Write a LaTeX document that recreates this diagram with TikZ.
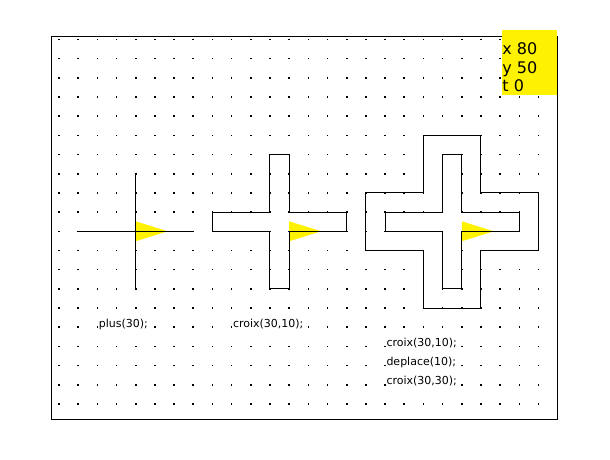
\documentclass[tikz,border=0pt]{standalone}
\usepackage{fontspec}
\newfontfamily\dv{DejaVu Sans}
\begin{document}
\begin{tikzpicture}[x=1pt,y=-1pt,
  lbl/.style={font=\dv\fontsize{11}{13}\selectfont, anchor=base west, inner xsep=0pt, inner ysep=0.6pt, fill=white},
  stat/.style={font=\dv\fontsize{16}{18}\selectfont, anchor=base west, inner sep=0pt},
  crossline/.style={draw=black, line width=1pt, line join=miter},
  turtle/.style={fill=yellow},
  framebox/.style={draw=black, line width=1pt},
  griddot/.style={fill=black}]
\useasboundingbox (0,0) rectangle (610,460);
\fill[white] (0,0) rectangle (610,460);
% dotted grid
\foreach \i in {0,...,26}{\foreach \j in {0,...,19}{
  \fill[griddot] ({59+19.18*\i-0.8},{39.5+19.18*\j-0.8}) rectangle ++(1.6,1.6);}}
% frame
\draw[framebox] (51.7,37) rectangle (557.5,419.5);
% shapes in grid units
\begin{scope}[shift={(59,39.5)}, x=19.18pt, y=-19.18pt]
  \foreach \c in {4,12,21}{
    \fill[turtle] (\c,9.479) -- (\c,10.521) -- ({\c+1.668},10) -- cycle;}
  % plus(30)
  \draw[crossline] (1,10) -- (7,10);
  \draw[crossline] (4,7) -- (4,13);
  % croix(30,10)
  \draw[crossline] (11,6) -- (12,6) -- (12,9) -- (15,9) -- (15,10) -- (12,10) -- (12,13)
    -- (11,13) -- (11,10) -- (8,10) -- (8,9) -- (11,9) -- cycle;
  % croix(30,10) inner
  \draw[crossline] (20,6) -- (21,6) -- (21,9) -- (24,9) -- (24,10) -- (21,10) -- (21,13)
    -- (20,13) -- (20,10) -- (17,10) -- (17,9) -- (20,9) -- cycle;
  % croix(30,30) outer
  \draw[crossline] (19,5) -- (22,5) -- (22,8) -- (25,8) -- (25,11) -- (22,11) -- (22,14)
    -- (19,14) -- (19,11) -- (16,11) -- (16,8) -- (19,8) -- cycle;
\end{scope}
% labels
\node[lbl] (l1) at (98.6,327.2) {plus(30);};
\node[lbl] (l2) at (232.8,327.2) {croix(30,10);};
\node[lbl] (l3) at (386.3,346.4) {croix(30,10);};
\node[lbl] (l4) at (386.3,365.6) {deplace(10);};
\node[lbl] (l5) at (386.3,384.7) {croix(30,30);};
% status box
\fill[yellow] (501.7,30) rectangle (556.8,94.5);
\node[stat] (sx) at (502.2,55) {x 80};
\node[stat] (sy) at (502.2,73.3) {y 50};
\node[stat] (st) at (502.2,91.7) {t 0};
\end{tikzpicture}
\end{document}
